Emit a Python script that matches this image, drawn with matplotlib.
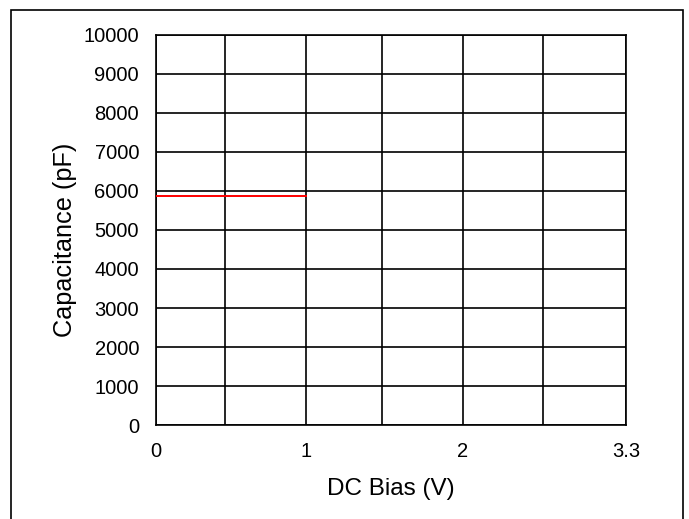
import numpy as np
import matplotlib
matplotlib.use("Agg")
import matplotlib.pyplot as plt
from matplotlib.patches import Rectangle

plt.rcParams["font.family"] = ["Liberation Sans", "DejaVu Sans"]

# capacitance vs DC bias
bias_v = [0, 1]
cap_pf = [5880, 5880]

# x axis is piecewise, labels at 0, 1, 2, 3.3 V
x_label_vals = [0, 1, 2, 3.3]
x_grid_vals = [0, 0.5, 1, 1.5, 2, 2.65, 3.3]
y_ticks = list(range(0, 10001, 1000))

# relative cell widths of the bias axis
_vals = np.array(x_grid_vals)
_pos = np.array([0, 69.3, 150, 226.6, 307, 387, 470.6])


def fwd(x):
    return np.interp(x, _vals, _pos)


def inv(p):
    return np.interp(p, _pos, _vals)


fig = plt.figure(figsize=(6.89, 5.19), dpi=100)
ax = fig.add_axes([0.226, 0.1811, 0.683, 0.7515])
ax.set_xscale("function", functions=(fwd, inv))
ax.set_xlim(0, 3.3)
ax.set_ylim(0, 10000)

ax.plot(bias_v, cap_pf, color="#ff0000", lw=1.4, zorder=3)

ax.set_xticks(x_label_vals)
ax.set_xticklabels(["0", "1", "2", "3.3"])
ax.set_xticks([v for v in x_grid_vals if v not in x_label_vals], minor=True)
ax.set_yticks(y_ticks)
ax.grid(True, which="both", color="black", lw=1.2)
ax.tick_params(axis="both", which="both", length=0, labelsize=14.5)
ax.tick_params(axis="x", pad=12)
ax.tick_params(axis="y", pad=12)
for s in ax.spines.values():
    s.set_linewidth(1.2)

ax.set_xlabel("DC Bias (V)", fontsize=17.5)
ax.set_ylabel("Capacitance (pF)", fontsize=18.2)
ax.xaxis.set_label_coords(0.5, -0.135)
ax.yaxis.set_label_coords(-0.167, 0.474)

# outer frame, open at the bottom edge
fig.add_artist(Rectangle((11 / 689, -0.05), (683 - 11) / 689, 1.05 - 9.5 / 519,
                         transform=fig.transFigure, fill=False,
                         edgecolor="black", lw=1.2))

fig.savefig("out.png", dpi=100)
